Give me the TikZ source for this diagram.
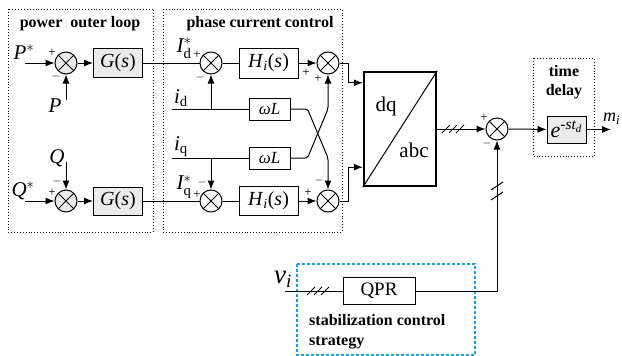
\documentclass[tikz,border=0pt]{standalone}
\usepackage{amsmath}
\usepackage{fontspec}
\setmainfont{Liberation Serif}
\usetikzlibrary{arrows.meta,positioning,calc}
\definecolor{stabblue}{HTML}{1BA1E2}
\tikzset{
  blk/.style={draw, line width=1pt, inner sep=0pt, font=\fontsize{20}{22}\selectfont},
  gblk/.style={blk, fill=black!8},
  sumn/.style={circle, draw, line width=1pt, minimum size=22pt, inner sep=0pt,
    path picture={\draw[line width=1pt]
      (path picture bounding box.north west) -- (path picture bounding box.south east)
      (path picture bounding box.north east) -- (path picture bounding box.south west);}},
  gsum/.style={sumn, fill=black!8},
  sgn/.style={inner sep=0pt, font=\fontsize{13}{13}\selectfont},
  lbl/.style={inner sep=0pt, font=\fontsize{21}{22}\selectfont},
  ttl/.style={inner sep=0pt, align=center, font=\bfseries\fontsize{16}{19.5}\selectfont},
  grp/.style={draw, dotted, line width=0.9pt},
  ln/.style={draw, line width=1pt},
  ar/.style={ln, -{Latex[length=9pt, width=7pt]}},
  tick/.style={line width=1pt},
}

\begin{document}
\begin{tikzpicture}[x=1pt, y=-1pt]
  \useasboundingbox (0,0) rectangle (622,356);
  % frames
  \draw[grp] (8,9) rectangle (153,232);
  \node[ttl] (tpo) at (80,24) {power~ outer loop};
  \draw[grp] (163,9) rectangle (342,232);
  \node[ttl] (tpc) at (260,24) {phase current control};
  \draw[grp] (533,58) rectangle (594,156);
  \node[ttl] (ttd) at (564,82) {time\\delay};
  \draw[stabblue, line width=1.6pt, dash pattern=on 3pt off 2pt] (297,264) rectangle (475,355);
  \node[ttl, align=left, anchor=west, font=\bfseries\fontsize{16}{20}\selectfont] (tsc) at (309,332) {stabilization control\\strategy};

  % power outer loop
  \node[gsum] (sP) at (66,63) {};
  \node[gblk, minimum width=49pt, minimum height=29pt] (gP) at (118,63) {\textit{G}(\textit{s})};
  \node[gsum] (sQ) at (66,201) {};
  \node[gblk, minimum width=49pt, minimum height=28pt] (gQ) at (118,201) {\textit{G}(\textit{s})};
  \node[lbl] (Pr) at (24,52) {$\mathit{P}^{*}$};
  \node[lbl] (Pm) at (55,106) {\textit{P}};
  \node[lbl] (Qr) at (23,191) {$\mathit{Q}^{*}$};
  \node[lbl] (Qm) at (57,158) {\textit{Q}};
  \coordinate (Pin) at (25,63);
  \coordinate (Pup) at (66,100);
  \coordinate (Qin) at (25,201);
  \coordinate (Qdn) at (66,162);
  \draw[ar] (Pin) -- (sP);
  \draw[ar] (Pup) -- (sP);
  \draw[ar] (sP) -- (gP);
  \draw[ar] (Qin) -- (sQ);
  \draw[ar] (Qdn) -- (sQ);
  \draw[ar] (sQ) -- (gQ);
  \node[sgn] at (52,53) {+};
  \node[sgn] at (56,76) {$-$};
  \node[sgn] at (57,181) {$-$};
  \node[sgn] at (52,193) {+};

  % phase current control
  \node[sumn] (s1d) at (211,63) {};
  \node[blk, minimum width=59pt, minimum height=30pt] (hd) at (268.5,63) {\textit{H}\textsubscript{\textit{i}}(\textit{s})};
  \node[sumn] (s2d) at (328,63) {};
  \node[sumn] (s1q) at (211,201) {};
  \node[blk, minimum width=59pt, minimum height=29pt] (hq) at (268.5,201) {\textit{H}\textsubscript{\textit{i}}(\textit{s})};
  \node[sumn] (s2q) at (328,201) {};
  \node[blk, minimum width=41pt, minimum height=22pt, font=\fontsize{17}{18}\selectfont] (wd) at (269.5,109) {\textit{ωL}};
  \node[blk, minimum width=41pt, minimum height=22pt, font=\fontsize{17}{18}\selectfont] (wq) at (269.5,158) {\textit{ωL}};
  \node[lbl] (Idr) at (184,48) {$\mathit{I}^{*}_{\mathrm{d}}$};
  \node[lbl] (Iqr) at (184,187) {$\mathit{I}^{*}_{\mathrm{q}}$};
  \node[lbl] (idl) at (181,98) {$\mathit{i}_{\mathrm{d}}$};
  \node[lbl] (iql) at (181,147) {$\mathit{i}_{\mathrm{q}}$};
  \coordinate (idin) at (172,109);
  \coordinate (iqin) at (172,158);
  \draw[ln] (gP) -- (s1d);
  \draw[ln] (s1d) -- (hd);
  \draw[ar] (hd) -- (s2d);
  \draw[ln] (gQ) -- (s1q);
  \draw[ln] (s1q) -- (hq);
  \draw[ar] (hq) -- (s2q);
  \draw[ln] (idin) -- (wd);
  \draw[ar] (s1d |- idin) -- (s1d);
  \draw[ln] (iqin) -- (wq);
  \draw[ar] (s1q |- iqin) -- (s1q);
  \draw[ar, rounded corners=2pt] (wd.east) -- ++(17,0) -- (s2q |- wq.east) -- (s2q);
  \draw[ar, rounded corners=2pt] (wq.east) -- ++(17,0) -- (s2d |- wd.east) -- (s2d);
  \node[sgn] at (197,55) {+};
  \node[sgn] at (200,77) {$-$};
  \node[sgn] at (202,182) {$-$};
  \node[sgn] at (197,195) {+};
  \node[sgn] at (306,73) {+};
  \node[sgn] at (318,79) {+};
  \node[sgn] at (319,180) {$-$};
  \node[sgn] at (308,193) {+};

  % dq/abc
  \node[draw, line width=2.4pt, minimum width=72pt, minimum height=114pt, fill=white] (dq) at (400,129) {};
  \draw[line width=1pt] (dq.south west) -- (dq.north east);
  \node[lbl] (tdq) at (386,106) {dq};
  \node[lbl] (tabc) at (414,150) {abc};
  \draw[ar] (s2d.east) -- ++(9,0) |- ($(dq.north west)+(0,12)$);
  \draw[ar] (s2q.east) -- ++(9,0) |- ($(dq.south west)+(0,-20)$);

  % output
  \node[sumn] (s3) at (497,129) {};
  \node[gblk, minimum width=39pt, minimum height=27pt, font=\fontsize{22}{24}\selectfont] (ed) at (566.5,129.5) {$\mathit{e}^{\text{-}\mathit{st}_{\mathit{d}}}$};
  \coordinate (mo) at (611,129.5);
  \node[lbl, anchor=west, font=\fontsize{18}{18}\selectfont] (ml) at (603,119) {$\mathit{m}_{\mathit{i}}$};
  \draw[ar] (dq.east |- s3) -- (s3);
  \draw[ar] (s3) -- (ed);
  \draw[ar] (ed) -- (mo);
  \coordinate (t3) at (453,129);
  \foreach \dx in {-7,0,7}
    \draw[tick] ($(t3)+(\dx-4,4)$) -- ($(t3)+(\dx+4,-4)$);
  \node[sgn] at (484,118) {+};
  \node[sgn] at (487,143) {$-$};

  % stabilization control
  \node[blk, minimum width=72pt, minimum height=27pt, font=\fontsize{19}{20}\selectfont] (qpr) at (379,291) {QPR};
  \node[lbl, font=\fontsize{27}{28}\selectfont] (vl) at (283,279) {$\mathit{v}_{\mathit{i}}$};
  \coordinate (vin) at (285,291);
  \draw[ln] (vin) -- (qpr);
  \draw[ar] (qpr.east) -| (s3.south);
  \coordinate (tv) at (318,291);
  \foreach \dx in {-7,0,7}
    \draw[tick] ($(tv)+(\dx-4,4)$) -- ($(tv)+(\dx+4,-4)$);
  \coordinate (t2) at (497,191);
  \foreach \dy in {-5,5}
    \draw[tick] ($(t2)+(-6,\dy+4)$) -- ($(t2)+(6,\dy-4)$);
\end{tikzpicture}
\end{document}
